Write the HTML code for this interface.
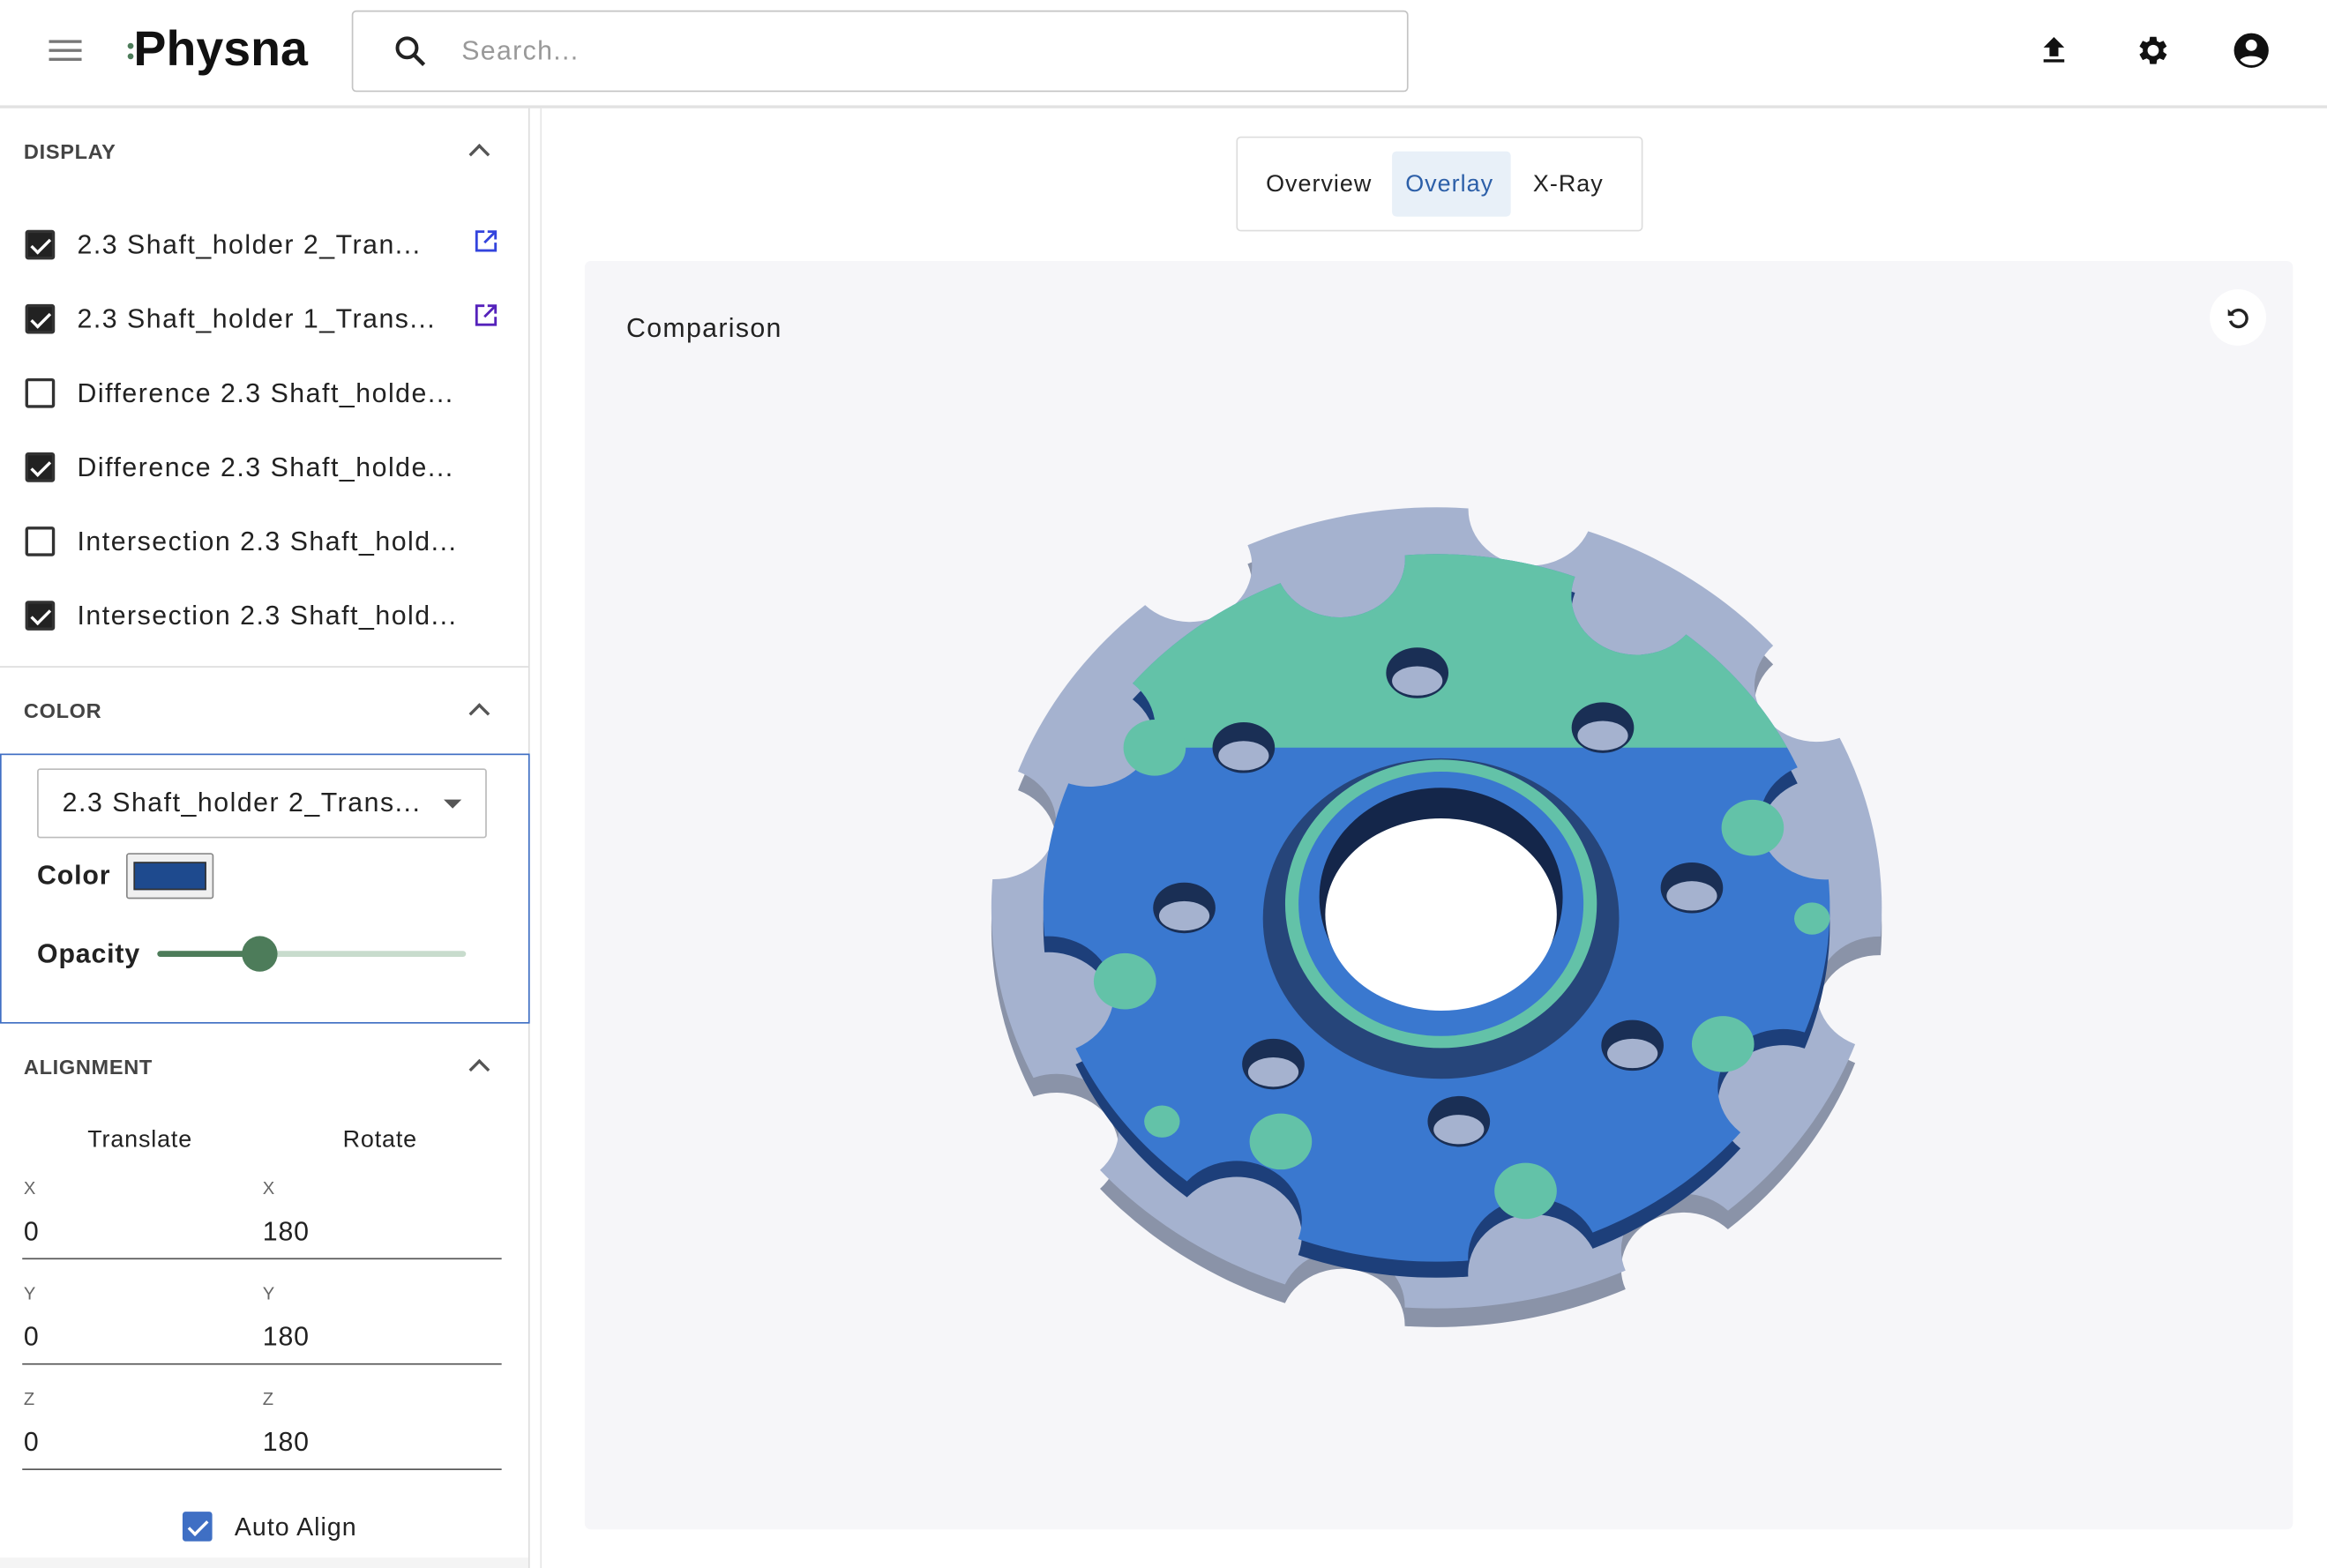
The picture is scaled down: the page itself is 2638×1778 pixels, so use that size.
<!DOCTYPE html>
<html><head><meta charset="utf-8"><style>
*{box-sizing:border-box;margin:0;padding:0}
html,body{width:2638px;height:1778px;overflow:hidden;background:#fff}
#w{position:absolute;left:0;top:0;width:1568px;height:1057px;transform:scale(1.68240,1.68212);transform-origin:0 0;font-family:"Liberation Sans",sans-serif;color:#222}
.a{position:absolute;white-space:nowrap}
.cb{position:absolute;width:20px;height:20px;border:2px solid #333;border-radius:2px}
.cb.on{background:#222}
.cb.on:after{content:"";position:absolute;left:5px;top:1px;width:5px;height:11px;border:solid #fff;border-width:0 2.5px 2.5px 0;transform:rotate(45deg)}
.row{font-size:18px;letter-spacing:.9px}
.sec{font-size:14px;font-weight:bold;color:#444;letter-spacing:.4px}
.chev{position:absolute;width:10px;height:10px;border-left:2px solid #555;border-top:2px solid #555;transform:rotate(45deg)}
.lbl{font-size:12px;color:#666}
.val{font-size:18px;letter-spacing:.5px}
.ln{position:absolute;left:15px;width:323px;height:1px;background:#555}
</style></head><body><div id="w">
<div class="a" style="left:0;top:71px;width:1568px;height:2px;background:#e2e2e2"></div>
<div class="a" style="left:33px;top:27px;width:22px;height:2px;background:#777"></div>
<div class="a" style="left:33px;top:33px;width:22px;height:2px;background:#777"></div>
<div class="a" style="left:33px;top:39px;width:22px;height:2px;background:#777"></div>
<div class="a" style="left:86px;top:29px;width:4px;height:4px;border-radius:50%;background:#4d7c5a"></div>
<div class="a" style="left:86px;top:36px;width:4px;height:4px;border-radius:50%;background:#4d7c5a"></div>
<div class="a" style="left:90px;top:14px;font-size:33px;font-weight:bold;color:#111;letter-spacing:0px">Physna</div>
<div class="a" style="left:237px;top:7px;width:712px;height:55px;border:1.5px solid #c4c4c4;border-radius:3px"></div>
<svg class="a" style="left:264px;top:22px" width="26" height="26" viewBox="0 0 24 24"><circle cx="9.5" cy="9.5" r="6" fill="none" stroke="#222" stroke-width="2.2"/><line x1="14" y1="14" x2="20" y2="20" stroke="#222" stroke-width="2.4"/></svg>
<div class="a" style="left:311px;top:24px;font-size:18px;color:#999;letter-spacing:.8px">Search...</div>
<svg class="a" style="left:1372px;top:22px" width="24" height="24" viewBox="0 0 24 24"><path d="M9 16h6v-6h4l-7-7-7 7h4zm-4 2h14v2H5z" fill="#111"/></svg>
<svg class="a" style="left:1437px;top:21px" width="26" height="26" viewBox="0 0 24 24"><path fill="#111" d="M19.1 12.9a7 7 0 000-1.8l2.1-1.6-2-3.5-2.5 1a7 7 0 00-1.6-.9L14.8 3.5h-4l-.4 2.6a7 7 0 00-1.6.9l-2.5-1-2 3.5 2.1 1.6a7 7 0 000 1.8l-2.1 1.6 2 3.5 2.5-1a7 7 0 001.6.9l.4 2.6h4l.4-2.6a7 7 0 001.6-.9l2.5 1 2-3.5zM12.8 15.5a3.5 3.5 0 110-7 3.5 3.5 0 010 7z"/></svg>
<svg class="a" style="left:1503px;top:20px" width="28" height="28" viewBox="0 0 24 24"><circle cx="12" cy="12" r="10" fill="#111"/><circle cx="12" cy="9" r="3.3" fill="#fff"/><path d="M5.5 17.5c2-3 11-3 13 0c-2 2.3-4 3-6.5 3s-4.5-.7-6.5-3z" fill="#fff"/></svg>
<div class="a" style="left:356px;top:73px;width:1px;height:984px;background:#ddd"></div>
<div class="a" style="left:364px;top:73px;width:1px;height:984px;background:#e6e6e6"></div>
<div class="a sec" style="left:16px;top:94px">DISPLAY</div>
<div class="chev" style="left:318px;top:99px"></div>
<div class="cb on" style="left:17px;top:155px"></div><div class="a row" style="left:52px;top:155px">2.3 Shaft_holder 2_Tran...</div>
<div class="cb on" style="left:17px;top:205px"></div><div class="a row" style="left:52px;top:205px">2.3 Shaft_holder 1_Trans...</div>
<svg class="a" style="left:319px;top:154px" width="17" height="17" viewBox="0 0 16 16"><path d="M7 2H2v12h12V9M9 2h5v5M14 2L7 9" fill="none" stroke="#3344dd" stroke-width="1.6"/></svg>
<svg class="a" style="left:319px;top:204px" width="17" height="17" viewBox="0 0 16 16"><path d="M7 2H2v12h12V9M9 2h5v5M14 2L7 9" fill="none" stroke="#5522bb" stroke-width="1.6"/></svg>
<div class="cb" style="left:17px;top:255px"></div><div class="a row" style="left:52px;top:255px">Difference 2.3 Shaft_holde...</div>
<div class="cb on" style="left:17px;top:305px"></div><div class="a row" style="left:52px;top:305px">Difference 2.3 Shaft_holde...</div>
<div class="cb" style="left:17px;top:355px"></div><div class="a row" style="left:52px;top:355px">Intersection 2.3 Shaft_hold...</div>
<div class="cb on" style="left:17px;top:405px"></div><div class="a row" style="left:52px;top:405px">Intersection 2.3 Shaft_hold...</div>
<div class="a" style="left:0;top:449px;width:356px;height:1px;background:#ddd"></div>
<div class="a sec" style="left:16px;top:471px">COLOR</div>
<div class="chev" style="left:318px;top:476px"></div>
<div class="a" style="left:0;top:508px;width:357px;height:182px;border:1.5px solid #3f6fc4"></div>
<div class="a" style="left:25px;top:518px;width:303px;height:47px;border:1px solid #bbb;border-radius:2px"></div>
<div class="a row" style="left:42px;top:531px">2.3 Shaft_holder 2_Trans...</div>
<div class="a" style="left:299px;top:539px;border-left:6px solid transparent;border-right:6px solid transparent;border-top:6px solid #555"></div>
<div class="a" style="left:25px;top:580px;font-size:18px;font-weight:bold;letter-spacing:.5px">Color</div>
<div class="a" style="left:85px;top:575px;width:59px;height:31px;border:1px solid #888;border-radius:2px;background:#f0f0f0"></div>
<div class="a" style="left:90px;top:581px;width:49px;height:19px;background:#1e4a8e;border:1px solid #333"></div>
<div class="a" style="left:25px;top:633px;font-size:18px;font-weight:bold;letter-spacing:.5px">Opacity</div>
<div class="a" style="left:106px;top:641px;width:208px;height:4px;border-radius:2px;background:#c8dccd"></div>
<div class="a" style="left:106px;top:641px;width:70px;height:4px;border-radius:2px;background:#4d7c5a"></div>
<div class="a" style="left:163px;top:631px;width:24px;height:24px;border-radius:50%;background:#4d7c5a"></div>
<div class="a sec" style="left:16px;top:711px">ALIGNMENT</div>
<div class="chev" style="left:318px;top:716px"></div>
<div class="a" style="left:59px;top:760px;font-size:16px;letter-spacing:.5px">Translate</div>
<div class="a" style="left:231px;top:760px;font-size:16px;letter-spacing:.5px">Rotate</div>
<div class="a lbl" style="left:16px;top:794px">X</div><div class="a lbl" style="left:177px;top:794px">X</div>
<div class="a val" style="left:16px;top:820px">0</div><div class="a val" style="left:177px;top:820px">180</div>
<div class="ln" style="top:848px"></div>
<div class="a lbl" style="left:16px;top:865px">Y</div><div class="a lbl" style="left:177px;top:865px">Y</div>
<div class="a val" style="left:16px;top:891px">0</div><div class="a val" style="left:177px;top:891px">180</div>
<div class="ln" style="top:919px"></div>
<div class="a lbl" style="left:16px;top:936px">Z</div><div class="a lbl" style="left:177px;top:936px">Z</div>
<div class="a val" style="left:16px;top:962px">0</div><div class="a val" style="left:177px;top:962px">180</div>
<div class="ln" style="top:990px"></div>
<div class="cb on" style="left:123px;top:1019px;border-color:#3f6fc4;background:#3f6fc4"></div>
<div class="a" style="left:158px;top:1020px;font-size:17px;letter-spacing:.6px">Auto Align</div>
<div class="a" style="left:0;top:1050px;width:356px;height:7px;background:#f4f4f4"></div>
<div class="a" style="left:833px;top:92px;width:274px;height:64px;border:1px solid #ddd;border-radius:3px"></div>
<div class="a" style="left:938px;top:102px;width:80px;height:44px;background:#e8f0f8;border-radius:3px"></div>
<div class="a" style="left:853px;top:116px;font-size:16px;letter-spacing:.6px">Overview</div>
<div class="a" style="left:947px;top:116px;font-size:16px;color:#2c5fa8;letter-spacing:.6px">Overlay</div>
<div class="a" style="left:1033px;top:116px;font-size:16px;letter-spacing:.6px">X-Ray</div>
<div class="a" style="left:394px;top:176px;width:1151px;height:855px;background:#f6f6f9;border-radius:4px"></div>
<div class="a" style="left:422px;top:211px;font-size:18px;letter-spacing:.8px">Comparison</div>
<div class="a" style="left:1489px;top:195px;width:38px;height:38px;border-radius:50%;background:#fff"></div>
<svg class="a" style="left:1499px;top:205px" width="18" height="18" viewBox="0 0 16 16"><path d="M4 6a5 5 0 11-.5 4" fill="none" stroke="#222" stroke-width="1.8"/><path d="M2 3v4h4z" fill="#222"/></svg>
<svg class="a" style="left:0;top:0" width="1568" height="1057">
<defs>
<mask id="mo"><rect x="-400" y="-400" width="800" height="800" fill="#000"/><circle r="300" fill="#fff"/>
<g fill="#000" transform="rotate(12)"><circle cx="0" cy="-305" r="42"/><circle cx="216" cy="-216" r="42"/><circle cx="305" cy="0" r="42"/><circle cx="216" cy="216" r="42"/><circle cx="0" cy="305" r="42"/><circle cx="-216" cy="216" r="42"/><circle cx="-305" cy="0" r="42"/><circle cx="-216" cy="-216" r="42"/></g></mask>
<mask id="mi"><rect x="-400" y="-400" width="800" height="800" fill="#000"/><circle r="265" fill="#fff"/>
<g fill="#000" transform="rotate(8)"><circle cx="101" cy="-250" r="44"/><circle cx="250" cy="-101" r="44"/><circle cx="250" cy="101" r="44"/><circle cx="101" cy="250" r="44"/><circle cx="-101" cy="250" r="44"/><circle cx="-250" cy="101" r="44"/><circle cx="-250" cy="-101" r="44"/><circle cx="-101" cy="-250" r="44"/></g></mask>
<clipPath id="ct"><rect x="-400" y="-400" width="800" height="280"/></clipPath>
</defs>
<g transform="translate(968,612) scale(1,0.9)">
<rect x="-320" y="-320" width="640" height="660" fill="#8a93a8" mask="url(#mo)" transform="translate(0,14)"/>
<rect x="-320" y="-320" width="640" height="640" fill="#a5b2cf" mask="url(#mo)"/>
<rect x="-320" y="-320" width="640" height="660" fill="#1d3f7a" mask="url(#mi)" transform="translate(0,12)"/>
<rect x="-320" y="-320" width="640" height="640" fill="#3a78cf" mask="url(#mi)"/>
<g clip-path="url(#ct)"><rect x="-320" y="-320" width="640" height="640" fill="#63c2a8" mask="url(#mi)"/></g>
<g fill="#63c2a8"><circle cx="-190" cy="-120" r="21"/><circle cx="213" cy="-60" r="21"/><circle cx="-210" cy="55" r="21"/><circle cx="193" cy="102" r="21"/><circle cx="-105" cy="175" r="21"/><circle cx="60" cy="212" r="21"/><circle cx="253" cy="8" r="12"/><circle cx="-185" cy="160" r="12"/></g>
<g fill="#1a2f55"><ellipse cx="-13" cy="-176" rx="21" ry="19"/><ellipse cx="-130" cy="-120" rx="21" ry="19"/><ellipse cx="112" cy="-135" rx="21" ry="19"/><ellipse cx="-170" cy="0" rx="21" ry="19"/><ellipse cx="172" cy="-15" rx="21" ry="19"/><ellipse cx="-110" cy="117" rx="21" ry="19"/><ellipse cx="132" cy="103" rx="21" ry="19"/><ellipse cx="15" cy="160" rx="21" ry="19"/></g>
<g fill="#a5b2cf"><ellipse cx="-13" cy="-170" rx="17" ry="11"/><ellipse cx="-130" cy="-114" rx="17" ry="11"/><ellipse cx="112" cy="-129" rx="17" ry="11"/><ellipse cx="-170" cy="6" rx="17" ry="11"/><ellipse cx="172" cy="-9" rx="17" ry="11"/><ellipse cx="-110" cy="123" rx="17" ry="11"/><ellipse cx="132" cy="109" rx="17" ry="11"/><ellipse cx="15" cy="166" rx="17" ry="11"/></g>
<ellipse cx="3" cy="8" rx="120" ry="120" fill="#26457a"/>
<ellipse cx="3" cy="-3" rx="105" ry="108" fill="#63c2a8"/>
<ellipse cx="3" cy="-3" rx="96" ry="99" fill="#3a78cf"/>
<ellipse cx="3" cy="-8" rx="82" ry="82" fill="#14264a"/>
<ellipse cx="3" cy="5" rx="78" ry="72" fill="#fff"/>
</g>
</svg>
</div></body></html>
